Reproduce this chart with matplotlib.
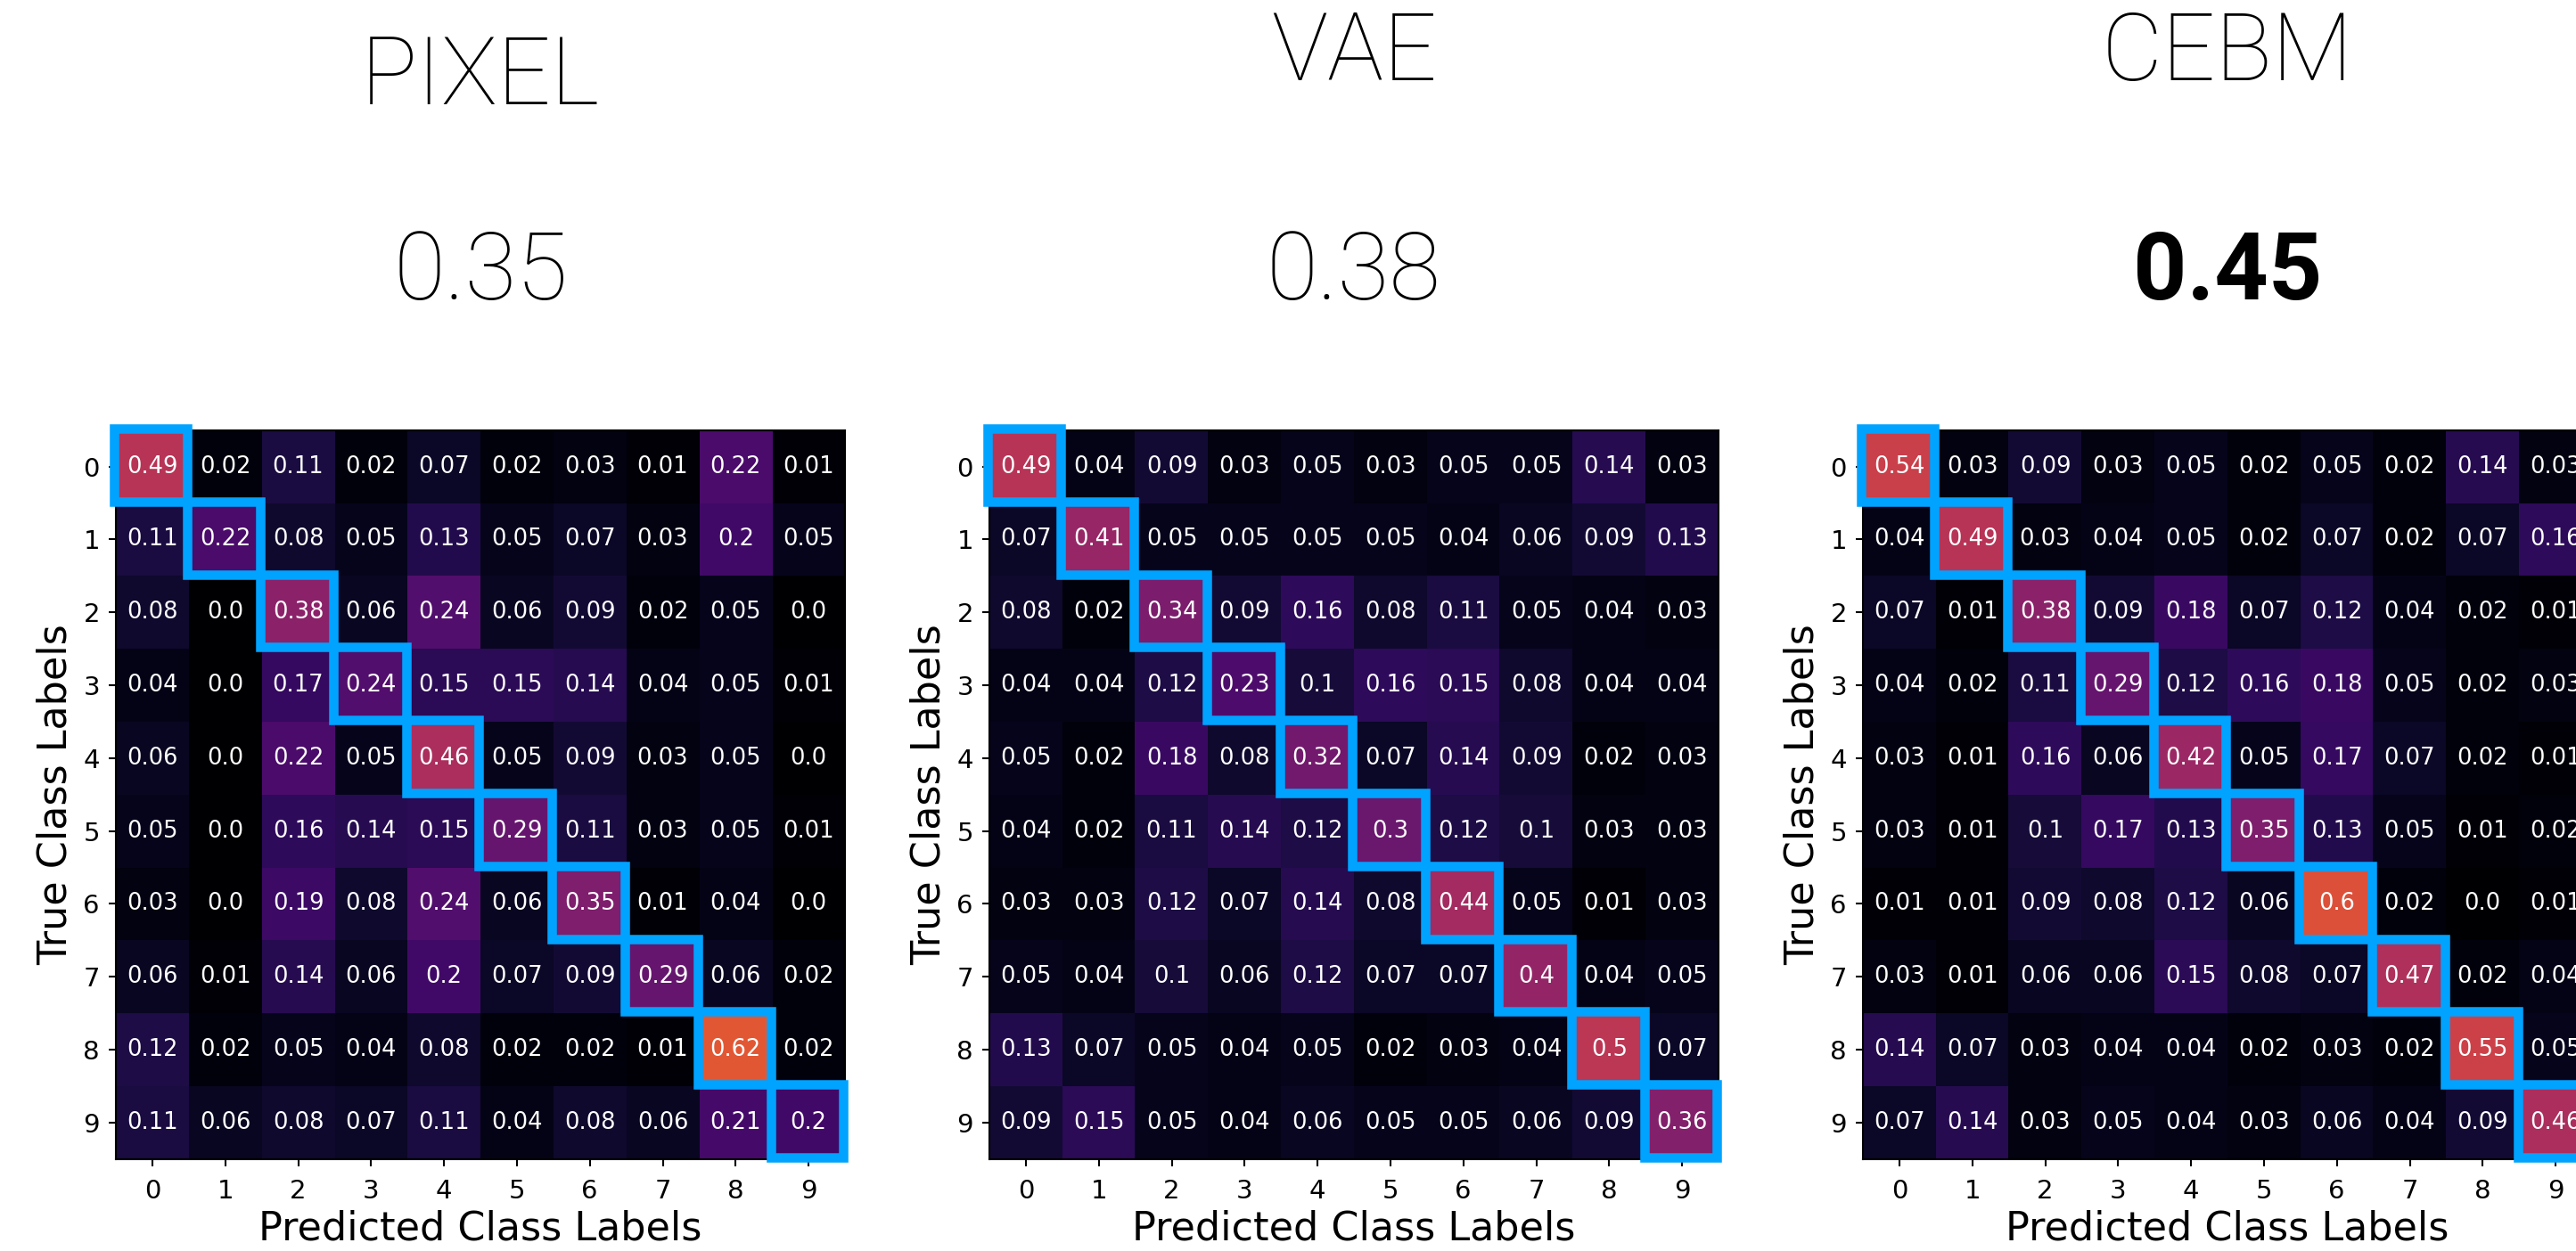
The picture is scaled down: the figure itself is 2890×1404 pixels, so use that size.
import numpy as np
import matplotlib
matplotlib.use('agg')
from matplotlib import pyplot as plt
from matplotlib.patches import Rectangle

# model names and their scores shown above each matrix
models = ['PIXEL', 'VAE', 'CEBM']
scores = ['0.35', '0.38', '0.45']
classes = [str(i) for i in range(10)]

pixel_cm = [
    [0.49, 0.02, 0.11, 0.02, 0.07, 0.02, 0.03, 0.01, 0.22, 0.01],
    [0.11, 0.22, 0.08, 0.05, 0.13, 0.05, 0.07, 0.03, 0.2, 0.05],
    [0.08, 0.0, 0.38, 0.06, 0.24, 0.06, 0.09, 0.02, 0.05, 0.0],
    [0.04, 0.0, 0.17, 0.24, 0.15, 0.15, 0.14, 0.04, 0.05, 0.01],
    [0.06, 0.0, 0.22, 0.05, 0.46, 0.05, 0.09, 0.03, 0.05, 0.0],
    [0.05, 0.0, 0.16, 0.14, 0.15, 0.29, 0.11, 0.03, 0.05, 0.01],
    [0.03, 0.0, 0.19, 0.08, 0.24, 0.06, 0.35, 0.01, 0.04, 0.0],
    [0.06, 0.01, 0.14, 0.06, 0.2, 0.07, 0.09, 0.29, 0.06, 0.02],
    [0.12, 0.02, 0.05, 0.04, 0.08, 0.02, 0.02, 0.01, 0.62, 0.02],
    [0.11, 0.06, 0.08, 0.07, 0.11, 0.04, 0.08, 0.06, 0.21, 0.2],
]

vae_cm = [
    [0.49, 0.04, 0.09, 0.03, 0.05, 0.03, 0.05, 0.05, 0.14, 0.03],
    [0.07, 0.41, 0.05, 0.05, 0.05, 0.05, 0.04, 0.06, 0.09, 0.13],
    [0.08, 0.02, 0.34, 0.09, 0.16, 0.08, 0.11, 0.05, 0.04, 0.03],
    [0.04, 0.04, 0.12, 0.23, 0.1, 0.16, 0.15, 0.08, 0.04, 0.04],
    [0.05, 0.02, 0.18, 0.08, 0.32, 0.07, 0.14, 0.09, 0.02, 0.03],
    [0.04, 0.02, 0.11, 0.14, 0.12, 0.3, 0.12, 0.1, 0.03, 0.03],
    [0.03, 0.03, 0.12, 0.07, 0.14, 0.08, 0.44, 0.05, 0.01, 0.03],
    [0.05, 0.04, 0.1, 0.06, 0.12, 0.07, 0.07, 0.4, 0.04, 0.05],
    [0.13, 0.07, 0.05, 0.04, 0.05, 0.02, 0.03, 0.04, 0.5, 0.07],
    [0.09, 0.15, 0.05, 0.04, 0.06, 0.05, 0.05, 0.06, 0.09, 0.36],
]

cebm_cm = [
    [0.54, 0.03, 0.09, 0.03, 0.05, 0.02, 0.05, 0.02, 0.14, 0.03],
    [0.04, 0.49, 0.03, 0.04, 0.05, 0.02, 0.07, 0.02, 0.07, 0.16],
    [0.07, 0.01, 0.38, 0.09, 0.18, 0.07, 0.12, 0.04, 0.02, 0.01],
    [0.04, 0.02, 0.11, 0.29, 0.12, 0.16, 0.18, 0.05, 0.02, 0.03],
    [0.03, 0.01, 0.16, 0.06, 0.42, 0.05, 0.17, 0.07, 0.02, 0.01],
    [0.03, 0.01, 0.1, 0.17, 0.13, 0.35, 0.13, 0.05, 0.01, 0.02],
    [0.01, 0.01, 0.09, 0.08, 0.12, 0.06, 0.6, 0.02, 0.0, 0.01],
    [0.03, 0.01, 0.06, 0.06, 0.15, 0.08, 0.07, 0.47, 0.02, 0.04],
    [0.14, 0.07, 0.03, 0.04, 0.04, 0.02, 0.03, 0.02, 0.55, 0.05],
    [0.07, 0.14, 0.03, 0.05, 0.04, 0.03, 0.06, 0.04, 0.09, 0.46],
]

matrices = [pixel_cm, vae_cm, cebm_cm]

W, H = 2890, 1404
fig = plt.figure(figsize=(W / 100.0, H / 100.0), dpi=100)

# axes boxes in pixels (left, top); third one runs off the right edge
lefts = [130, 1110, 2090]
top, side = 482.7, 818
title_base = [117, 90, 90]
score_base = 336
title_font = ['Roboto', 'DejaVu Sans']

for k in range(3):
    cm = np.array(matrices[k])
    ax = fig.add_axes([lefts[k] / W, 1 - (top + side) / H, side / W, side / H])
    ax.imshow(cm, cmap='inferno', vmin=0, vmax=1, aspect='auto')
    for i in range(10):
        for j in range(10):
            ax.text(j, i, str(cm[i, j]), ha='center', va='center',
                    color='white', fontsize=18.5)
    for i in range(10):
        ax.add_patch(Rectangle((i - 0.52, i - 0.52), 1, 1, fill=False,
                               edgecolor='#00a3ff', lw=7.6, clip_on=False,
                               zorder=5))
    ax.set_xticks(range(10))
    ax.set_yticks(range(10))
    ax.set_xticklabels(classes)
    ax.set_yticklabels(classes)
    ax.tick_params(labelsize=21, length=6, width=1.5, pad=7)
    ax.tick_params(axis='x', pad=10)
    for s in ax.spines.values():
        s.set_linewidth(1.5)
    ax.set_xlabel('Predicted Class Labels', fontsize=32, labelpad=5)
    ax.set_ylabel('True Class Labels', fontsize=32, labelpad=7)

    cx = (lefts[k] + side / 2.0) / W
    fig.text(cx, 1 - title_base[k] / H, models[k], ha='center', va='baseline',
             fontsize=76, family=title_font, fontweight='light')
    fig.text(cx, 1 - score_base / H, scores[k], ha='center', va='baseline',
             fontsize=76, family=title_font,
             fontweight='bold' if k == 2 else 'light')

fig.savefig('out.png', dpi=100)
